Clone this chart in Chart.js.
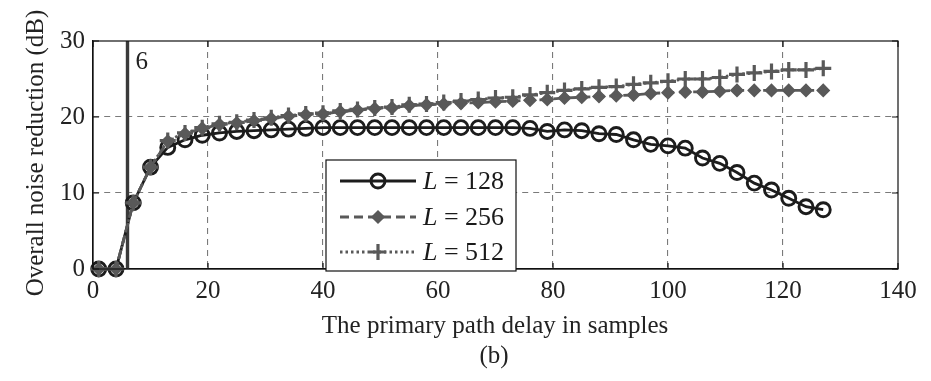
<!DOCTYPE html>
<html><head><meta charset="utf-8">
<script src="https://cdn.jsdelivr.net/npm/chart.js@4.4.1/dist/chart.umd.min.js"></script>
<style>html,body{margin:0;padding:0;background:#fff}#wrap{width:931px;height:381px}</style>
</head><body><div id="wrap"><canvas id="c" width="931" height="381"></canvas></div>
<script>
// primary path delay (samples)
const delays = [1,4,7,10,13,16,19,22,25,28,31,34,37,40,43,46,49,52,55,58,61,64,67,70,73,76,79,82,85,88,91,94,97,100,103,106,109,112,115,118,121,124,127];
// overall noise reduction (dB)
const L128 = [0,0,8.7,13.4,16.0,17.0,17.6,17.9,18.1,18.2,18.3,18.4,18.5,18.6,18.6,18.6,18.6,18.6,18.6,18.6,18.6,18.6,18.6,18.6,18.6,18.5,18.1,18.3,18.2,17.8,17.7,17.0,16.4,16.2,15.9,14.6,13.9,12.7,11.3,10.4,9.3,8.2,7.8];
const L256 = [0,0,8.7,13.4,16.8,17.8,18.5,19.0,19.2,19.5,19.8,20.1,20.3,20.4,20.7,20.9,21.1,21.2,21.5,21.6,21.7,21.8,21.9,22.0,22.1,22.2,22.3,22.5,22.6,22.7,22.8,22.9,23.1,23.2,23.3,23.3,23.4,23.5,23.5,23.5,23.5,23.5,23.5];
const L512 = [0,0,8.7,13.4,16.9,17.9,18.6,19.1,19.3,19.6,19.9,20.2,20.4,20.5,20.8,21.0,21.2,21.3,21.6,21.7,21.9,22.1,22.3,22.5,22.6,22.9,23.2,23.5,23.7,23.9,24.0,24.3,24.5,24.7,25.0,25.0,25.2,25.6,25.8,26.0,26.2,26.2,26.4];
const seriesLabels = ['128','256','512'];
const markerDelay = 6;
const markerSpan = [0, 30];
const xTicks = [0,20,40,60,80,100,120,140];
const yTicks = [0,10,20,30];
const yTitle = 'Overall noise reduction (dB)';
const xTitle = 'The primary path delay in samples';
const subCaption = '(b)';

const FONT = '"Liberation Serif", "Times New Roman", serif';
const BLACK = '#1c1c1c', GREY = '#595959';
const pts = arr => delays.map((d,i) => ({x:d, y:arr[i]}));

const datasets = [
  {label:'L = '+seriesLabels[0], data:pts(L128), borderColor:BLACK, borderWidth:2.8, pointStyle:'circle', pointRadius:7, pointBorderWidth:2.9, pointBackgroundColor:'rgba(0,0,0,0)', pointBorderColor:BLACK, order:2, clip:false},
  {label:'L = '+seriesLabels[1], data:pts(L256), borderColor:GREY, borderWidth:2.8, borderDash:[9,5], pointStyle:'rectRot', pointRadius:6, pointBorderWidth:1.5, pointBackgroundColor:GREY, pointBorderColor:GREY, order:1, clip:false},
  {label:'L = '+seriesLabels[2], data:pts(L512), borderColor:GREY, borderWidth:2.8, borderDash:[2.5,3], pointStyle:'cross', pointRadius:8, pointBorderWidth:3.2, pointBackgroundColor:GREY, pointBorderColor:GREY, order:0, clip:false},
  {label:'marker', data:markerSpan.map(v => ({x:markerDelay, y:v})), borderColor:'#3a3a3a', borderWidth:3.4, pointRadius:0, order:3, clip:false}
];

const decor = {
  id:'decor',
  afterDraw(chart){
    const {ctx, chartArea:a, scales:{x, y}} = chart;
    ctx.save();
    // frame
    ctx.strokeStyle = '#111'; ctx.lineWidth = 1.2; ctx.setLineDash([]);
    ctx.strokeRect(a.left, a.top, a.right-a.left, a.bottom-a.top);
    // inward ticks
    ctx.beginPath();
    xTicks.forEach(v => { const p = x.getPixelForValue(v);
      ctx.moveTo(p, a.bottom); ctx.lineTo(p, a.bottom-6);
      ctx.moveTo(p, a.top); ctx.lineTo(p, a.top+6); });
    yTicks.forEach(v => { const p = y.getPixelForValue(v);
      ctx.moveTo(a.left, p); ctx.lineTo(a.left+6, p);
      ctx.moveTo(a.right, p); ctx.lineTo(a.right-6, p); });
    ctx.stroke();
    // marker label
    ctx.fillStyle = '#222';
    ctx.font = '25px ' + FONT;
    ctx.textAlign = 'left'; ctx.textBaseline = 'middle';
    ctx.fillText(String(markerDelay), x.getPixelForValue(markerDelay)+8, y.getPixelForValue(27.2));
    // titles
    ctx.textAlign = 'center';
    ctx.fillText(xTitle, 495, 326);
    ctx.fillText(subCaption, 494, 356);
    ctx.save();
    ctx.translate(36, 153);
    ctx.rotate(-Math.PI/2);
    ctx.fillText(yTitle, 0, 0);
    ctx.restore();
    // legend
    const lx = 326, ly = 160, lw = 190, lh = 111;
    ctx.fillStyle = '#fff';
    ctx.fillRect(lx, ly, lw, lh);
    ctx.strokeStyle = '#111'; ctx.lineWidth = 1.2;
    ctx.strokeRect(lx, ly, lw, lh);
    const rows = [ly+21, ly+57, ly+92];
    [0,1,2].forEach(i => {
      const ds = chart.data.datasets[i];
      const yy = rows[i];
      ctx.save();
      ctx.strokeStyle = ds.borderColor; ctx.lineWidth = ds.borderWidth;
      ctx.setLineDash(ds.borderDash || []);
      ctx.beginPath(); ctx.moveTo(lx+14, yy); ctx.lineTo(lx+90, yy); ctx.stroke();
      ctx.restore();
      ctx.save();
      ctx.fillStyle = ds.pointBackgroundColor; ctx.strokeStyle = ds.pointBorderColor; ctx.lineWidth = ds.pointBorderWidth;
      ctx.setLineDash([]);
      Chart.helpers.drawPoint(ctx, {pointStyle:ds.pointStyle, radius:ds.pointRadius, borderWidth:ds.pointBorderWidth, rotation:0}, lx+52, yy);
      ctx.restore();
      ctx.fillStyle = '#1a1a1a';
      ctx.textAlign = 'left'; ctx.textBaseline = 'middle';
      ctx.font = 'italic 26px ' + FONT;
      ctx.fillText('L', lx+97, yy+1);
      const w = ctx.measureText('L').width;
      ctx.font = '26px ' + FONT;
      ctx.fillText(' = ' + seriesLabels[i], lx+97+w, yy+1);
    });
    ctx.restore();
  }
};

const gridColor = ctx => (ctx.tick && (ctx.tick.value === 0 || ctx.tick.value === 140 || ctx.tick.value === 30)) ? 'rgba(0,0,0,0)' : '#7a7a7a';

new Chart(document.getElementById('c'), {
  type:'line',
  data:{datasets},
  options:{
    responsive:false, animation:false, devicePixelRatio:1,
    layout:{padding:{top:41, right:33, bottom:0, left:0}},
    plugins:{legend:{display:false}, tooltip:{enabled:false}},
    scales:{
      x:{type:'linear', min:0, max:140,
        afterBuildTicks: s => { s.ticks = xTicks.map(v => ({value:v})); },
        afterFit: s => { s.height = 112; },
        ticks:{font:{family:FONT, size:25}, color:'#222', padding:7, maxRotation:0},
        grid:{color:gridColor, lineWidth:1.1, drawTicks:false},
        border:{display:true, color:'#111', width:1.2, dash:[6,5]}},
      y:{min:0, max:30,
        afterBuildTicks: s => { s.ticks = yTicks.map(v => ({value:v})); },
        afterFit: s => { s.width = 93; },
        ticks:{font:{family:FONT, size:25}, color:'#222', padding:8},
        grid:{color:gridColor, lineWidth:1.1, drawTicks:false},
        border:{display:true, color:'#111', width:1.2, dash:[6,5]}}
    }
  },
  plugins:[decor]
});
</script></body></html>
